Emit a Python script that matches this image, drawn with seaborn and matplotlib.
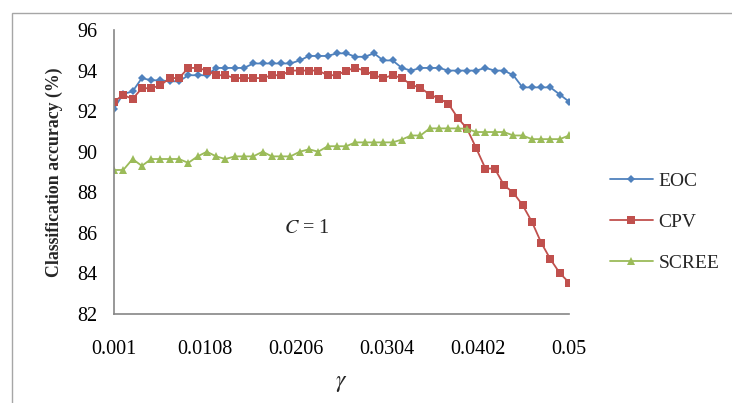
import numpy as np
import pandas as pd
import matplotlib
matplotlib.use("Agg")
import matplotlib.pyplot as plt
import seaborn as sns
from matplotlib.patches import Rectangle

# gamma values 0.001 ... 0.050
gamma = [round(0.001 * i, 3) for i in range(1, 51)]

eoc = [92.13, 92.85, 92.97, 93.63, 93.52, 93.52, 93.47, 93.47, 93.77, 93.77,
       93.77, 94.13, 94.13, 94.13, 94.13, 94.35, 94.35, 94.35, 94.35, 94.35,
       94.5, 94.72, 94.72, 94.72, 94.85, 94.85, 94.68, 94.68, 94.85, 94.5,
       94.5, 94.13, 94.0, 94.13, 94.13, 94.13, 94.0, 94.0, 94.0, 94.0,
       94.13, 94.0, 94.0, 93.77, 93.17, 93.17, 93.17, 93.17, 92.82, 92.47]

cpv = [92.47, 92.8, 92.6, 93.13, 93.13, 93.27, 93.63, 93.63, 94.13, 94.13,
       94.0, 93.77, 93.77, 93.63, 93.63, 93.63, 93.63, 93.77, 93.77, 94.0,
       94.0, 94.0, 94.0, 93.77, 93.77, 94.0, 94.13, 94.0, 93.77, 93.63,
       93.77, 93.63, 93.3, 93.15, 92.82, 92.62, 92.37, 91.68, 91.15, 90.18,
       89.17, 89.17, 88.35, 87.98, 87.37, 86.55, 85.52, 84.7, 84.02, 83.55]

scree = [89.1, 89.1, 89.64, 89.3, 89.64, 89.64, 89.64, 89.64, 89.45, 89.77,
         90.0, 89.77, 89.64, 89.77, 89.77, 89.77, 90.0, 89.77, 89.77, 89.77,
         90.0, 90.12, 90.0, 90.27, 90.27, 90.27, 90.46, 90.46, 90.46, 90.46,
         90.46, 90.6, 90.8, 90.8, 91.15, 91.15, 91.15, 91.15, 91.13, 90.97,
         90.97, 90.97, 90.97, 90.8, 90.8, 90.62, 90.62, 90.62, 90.62, 90.8]

series_names = ["EOC", "CPV", "SCREE"]
x_ticks = [0.001, 0.0108, 0.0206, 0.0304, 0.0402, 0.05]
x_tick_labels = ["0.001", "0.0108", "0.0206", "0.0304", "0.0402", "0.05"]
y_ticks = [82, 84, 86, 88, 90, 92, 94, 96]

df = pd.DataFrame({
    "gamma": gamma * 3,
    "accuracy": eoc + cpv + scree,
    "method": ["EOC"] * 50 + ["CPV"] * 50 + ["SCREE"] * 50,
})

palette = {"EOC": "#4F81BD", "CPV": "#C0504D", "SCREE": "#9BBB59"}
markers = {"EOC": "D", "CPV": "s", "SCREE": "^"}
msize = {"EOC": 4.2, "CPV": 5.3, "SCREE": 6.0}

sns.set_theme(style="white")
plt.rcParams["font.family"] = ["Liberation Serif", "DejaVu Serif"]
plt.rcParams["mathtext.fontset"] = "stix"

fig = plt.figure(figsize=(7.32, 4.03), dpi=100)
ax = fig.add_axes([114 / 732, 1 - 314 / 403, 455 / 732, 284 / 403])

for name in series_names:
    sub = df[df["method"] == name]
    sns.lineplot(data=sub, x="gamma", y="accuracy", ax=ax, color=palette[name],
                 marker=markers[name], markersize=msize[name], markeredgewidth=0,
                 linewidth=1.3, label=name, legend=False)

ax.set_xlim(0.001, 0.05)
ax.set_ylim(82, 96)
ax.set_xticks(x_ticks)
ax.set_xticklabels(x_tick_labels)
ax.set_yticks(y_ticks)
ax.tick_params(axis="both", labelsize=14.5, colors="black", direction="out",
               length=5, width=1, color="#868686")
ax.tick_params(axis="x", pad=14)
ax.tick_params(axis="y", pad=7)

for side in ["top", "right"]:
    ax.spines[side].set_visible(False)
for side in ["left", "bottom"]:
    ax.spines[side].set_color("#868686")
    ax.spines[side].set_linewidth(1.2)

ax.set_xlabel(r"$\gamma$", fontsize=17, labelpad=10)
ax.set_ylabel("Classification accuracy (%)", fontsize=12.8, fontweight="bold", labelpad=10)

ax.text(0.0218, 86.2, "$C$ = 1", fontsize=14.5, ha="center", va="center")

handles, labels = ax.get_legend_handles_labels()
leg = fig.legend(handles, labels, loc="center left", bbox_to_anchor=(610 / 732, 1 - 222 / 403),
                 frameon=False, fontsize=14, handlelength=2.2, labelspacing=1.2,
                 handletextpad=0.3, borderpad=0, borderaxespad=0)

# chart area border
fig.patches.append(Rectangle((12 / 732, -0.05), 1.0, 1 - 13 / 403 + 0.05,
                             transform=fig.transFigure, fill=False,
                             edgecolor="#A6A6A6", linewidth=1.0))

fig.savefig("out.png", dpi=100)
